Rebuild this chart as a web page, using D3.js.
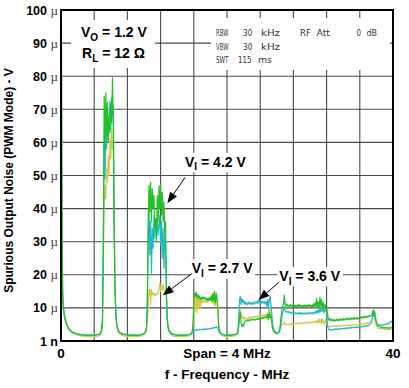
<!DOCTYPE html>
<html><head><meta charset="utf-8">
<script src="https://cdn.jsdelivr.net/npm/d3@7"></script>
<style>body{margin:0;background:#fff}svg{display:block}</style>
</head><body>
<svg id="c" width="409" height="388"></svg>
<script>
// ---------- data ----------
const freqStart = 0, freqStop = 40, sweepPoints = 401; // MHz
const yTickValues = [0,10,20,30,40,50,60,70,80,90,100];
const yTickNums   = ["1","10","20","30","40","50","60","70","80","90","100"];
const yTickUnits  = ["n","µ","µ","µ","µ","µ","µ","µ","µ","µ","µ"];
const xGridValues = [4,8,12,16,20,24,28,32,36];
const yGridValues = [10,20,30,40,50,60,70,80,90];

// V_I = 4.2 V (green), 0.1 MHz per point, one row per MHz
const green = [
150,40,14,10,8,6.8,5.8,5.0,4.4,4.0,
3.6,3.3,3.1,2.9,2.7,2.6,2.5,2.4,2.3,2.2,
2.1,2.1,2.0,2.0,1.9,1.9,1.9,1.8,1.8,1.8,
1.8,1.7,1.8,1.8,1.7,1.8,1.8,1.7,1.8,1.8,
1.8,1.8,1.8,1.9,1.9,1.9,2.0,2.2,2.6,3.5,
7,30,74,58,75,62,72,60,68,63,
72,66,79.5,66,38,18,9.5,5.5,4.0,3.2,
2.8,2.6,2.4,2.3,2.2,2.1,2.0,2.0,1.9,1.9,
1.9,1.8,1.8,1.8,1.7,1.8,1.8,1.7,1.8,1.8,
1.8,1.8,1.7,1.8,1.8,1.8,1.9,1.9,2.0,2.1,
2.3,2.6,3.1,4.2,12,35,47,39,48,36,
46,40,44,34,37,30,44,36,47,40,
47.5,38,45,36,42,33,36,15,7,4.5,
3.4,2.9,2.6,2.4,2.2,2.1,2.0,2.0,1.9,1.9,
1.8,1.8,1.7,1.8,1.8,1.7,1.8,1.8,1.8,1.7,
1.8,1.8,1.8,1.9,1.9,2.0,2.1,2.3,2.8,5,
12,14.5,13.5,14.8,13,14,12.8,13.5,12.5,13.2,
12.6,13.4,12.8,13.2,12.5,13,12.2,12.9,12.3,13.1,
12.4,13.8,12,14.5,12.2,14.9,11.5,14.2,13,9,
4.5,3.0,2.5,2.2,2.0,1.9,1.9,1.8,1.8,1.8,
1.7,1.8,1.8,1.7,1.8,1.8,1.8,1.9,1.9,2.0,
2.0,2.1,2.2,2.4,4,7,8.8,5.5,4.3,5,
4.5,5.8,6,6.2,6,6.3,6.1,6.4,6.2,6.5,
6.3,6.6,6.4,6.5,6.3,6.7,6.5,6.8,6.5,6.9,
6.6,7,6.8,7.1,6.9,7.2,7,7.4,7,8,
6.5,8.8,7,7.5,5.5,3.8,3.0,2.7,2.5,2.3,
2.2,2.3,2.6,3.2,4.5,7,9.5,10.5,11,13.9,
11,10.5,11.2,10.6,10.8,10.4,11,10.5,10.9,10.3,
10.8,10.4,10.9,10.2,10.8,10.5,11.1,10.4,10.9,10.3,
10.7,10.2,10.8,10.4,10.9,10.3,10.8,10.5,11,10.4,
10.9,10.3,10.8,10.5,11.2,10.2,11.5,10.4,12.8,10.2,
11.8,10,13.3,10.5,12.5,9.8,11.5,10.2,11,9.8,
10.2,8.5,6.8,6.3,6.8,6.2,6.6,6.1,6.5,6.0,
6.4,6.1,6.6,6.2,6.5,6.1,6.7,6.3,6.6,6.2,
6.8,6.3,6.6,6.4,6.9,6.5,6.8,6.4,6.9,6.5,
7.0,6.6,6.9,6.5,7.1,6.7,7.0,6.6,7.1,6.8,
7.2,6.9,7.3,6.9,7.4,7.0,7.5,7.1,7.4,7.2,
7.6,7.3,7.7,7.5,7.8,8.2,9.4,8.0,9.0,7.0,
5.8,5.0,4.6,4.4,4.3,4.1,4.2,4.0,4.1,3.9,
4.0,3.9,4.1,3.9,4.0,3.8,4.0,3.9,4.1,3.9,
4.0];

// V_I = 3.6 V (cyan)
const cyan = [
150,38,13,9.5,7.6,6.5,5.6,4.9,4.3,3.9,
3.5,3.2,3.0,2.8,2.7,2.5,2.4,2.3,2.2,2.2,
2.1,2.0,2.0,1.9,1.9,1.9,1.8,1.8,1.8,1.8,
1.7,1.8,1.8,1.7,1.8,1.7,1.8,1.8,1.7,1.8,
1.8,1.8,1.8,1.8,1.9,1.9,2.0,2.2,2.5,3.3,
6,28,60,49,66,58,69,61,67,72.5,
64,73.5,68,71,36,16,8.5,5,3.8,3.1,
2.7,2.5,2.4,2.2,2.1,2.0,2.0,1.9,1.9,1.8,
1.8,1.8,1.7,1.8,1.8,1.7,1.8,1.8,1.7,1.8,
1.8,1.7,1.8,1.8,1.8,1.9,1.9,2.0,2.0,2.1,
2.2,2.5,3.0,4,10,30,42,26,36,20.5,
34,28,38,31,36,33,37,32,35,38,
29,36,25,34,22,33,28,14,6,3.8,
3.0,2.6,2.4,2.2,2.1,2.0,1.9,1.9,1.8,1.8,
1.8,1.7,1.8,1.8,1.7,1.8,1.8,1.7,1.8,1.8,
1.8,1.8,1.8,1.9,1.9,2.0,2.0,2.1,2.3,2.6,
3.2,3.4,3.2,3.5,3.3,3.4,3.3,3.5,3.4,3.5,
3.4,3.6,3.5,3.6,3.5,3.7,3.6,3.7,3.6,3.8,
3.7,3.9,3.8,4.0,3.9,4.1,4.0,4.3,4.1,3.9,
3.2,2.6,2.3,2.1,2.0,1.9,1.9,1.8,1.8,1.8,
1.8,1.7,1.8,1.8,1.8,1.7,1.8,1.8,1.9,1.9,
2.0,2.0,2.2,3,6,12.5,13.4,11,12.8,11.5,
12.3,11.2,11.8,10.9,11.6,11,11.8,11.2,11.6,11,
11.5,11.1,11.8,11.2,11.6,11.9,11.3,12.2,11.5,12.3,
11.6,12,11.4,12.1,11.5,11.9,11.2,12,10.5,12.4,
10,12.8,13.4,11,8,5,3.8,3.2,2.9,2.6,
2.4,2.3,2.4,2.8,3.5,5,7,8.5,9.2,10.4,
9.2,8.8,9,8.6,8.9,8.5,8.8,8.4,8.7,8.3,
8.6,8.2,8.6,8.3,8.5,8.1,8.5,8.2,8.6,8.2,
8.5,8.1,8.4,8.2,8.5,8.1,8.4,8.2,8.6,8.2,
8.5,8.3,8.6,8.2,8.7,8.3,8.8,8.4,9.2,8.5,
9.5,8.6,9.8,8.8,9.6,9,10,8.5,9.5,9.2,
8.8,5,3.8,3.4,3.3,3.5,3.3,3.5,3.4,3.6,
3.4,3.6,3.5,3.7,3.5,3.7,3.6,3.8,3.6,3.8,
3.7,3.9,3.7,3.9,3.8,4.0,3.8,4.0,3.9,4.1,
3.9,4.1,4.0,4.2,4.0,4.2,4.1,4.3,4.1,4.3,
4.2,4.4,4.2,4.4,4.3,4.5,4.4,4.6,4.5,4.7,
4.6,4.8,4.9,5.2,5.8,6.8,8.3,7.5,7.8,6.5,
5.5,5.0,4.8,4.9,4.7,4.8,4.7,4.9,4.8,5.0,
4.9,5.1,5.0,5.3,5.2,5.5,5.4,5.7,6.0,5.6,
5.8];

// V_I = 2.7 V (yellow)
const yellow = [
150,45,15,10,7.8,6.4,5.4,4.6,4.0,3.6,
3.2,2.9,2.7,2.5,2.3,2.2,2.1,2.0,1.9,1.8,
1.8,1.7,1.7,1.6,1.6,1.5,1.5,1.5,1.4,1.4,
1.4,1.3,1.4,1.3,1.3,1.4,1.3,1.3,1.4,1.3,
1.3,1.4,1.3,1.4,1.4,1.5,1.6,1.8,2.2,3.0,
5,22,40,47,43,52,48,56,50,61,
55,64,58,60,32,15,8,5,3.5,2.8,
2.4,2.1,1.9,1.8,1.7,1.6,1.5,1.5,1.4,1.4,
1.4,1.3,1.3,1.4,1.3,1.3,1.4,1.3,1.4,1.3,
1.3,1.4,1.3,1.4,1.4,1.5,1.5,1.6,1.7,1.9,
2.0,2.2,2.6,3.3,6,10,15,16,11,15.5,
14,14.5,13.8,14.2,13.8,14.3,14,14.5,15.5,17.5,
15,16.5,15.4,17,16,15,15.5,12,7,4.5,
3.2,2.5,2.1,1.8,1.6,1.5,1.5,1.4,1.4,1.3,
1.3,1.4,1.3,1.3,1.4,1.3,1.3,1.4,1.3,1.4,
1.4,1.4,1.5,1.5,1.6,1.7,1.9,2.1,2.6,4,
10,14.5,9,13.8,8.5,14,10,13,9.8,12.5,
11.5,12.4,11.8,12.2,11.6,12,11.7,12.3,11.9,12.4,
12,12.8,11.5,13.5,11,14.2,10.5,14.8,12,10,
5.5,3.5,2.5,2.0,1.7,1.5,1.4,1.4,1.3,1.3,
1.4,1.3,1.3,1.4,1.3,1.4,1.4,1.5,1.5,1.6,
1.7,1.8,2.0,2.5,4,8.5,9.4,7.2,8,6.8,
7.2,6.6,7,6.5,6.9,6.6,7.1,6.8,7.2,6.9,
7.3,7,7.4,7.1,7.4,7.2,7.5,7.2,7.6,7.3,
7.6,7.4,7.8,7.5,7.9,7.6,8,7.6,8.4,7.2,
9,10,7.5,8.5,6,4,3.2,2.8,2.5,2.3,
2.2,2.3,2.5,2.9,3.5,4.2,4.8,5,5.2,5.8,
5,5.2,4.9,5.1,4.9,5.2,5,5.2,5,5.3,
5.1,5.3,5.1,5.4,5.2,5.4,5.2,5.4,5.3,5.5,
5.3,5.5,5.3,5.6,5.4,5.6,5.4,5.7,5.5,5.7,
5.5,5.8,5.5,5.8,5.6,5.9,5.6,6,5.5,6.3,
5.4,6.8,5.6,6.5,5.2,6.8,5.5,6,5,6.2,
5.4,4.6,4.3,4.4,4.3,4.5,4.3,4.5,4.4,4.6,
4.4,4.6,4.4,4.6,4.5,4.7,4.5,4.7,4.5,4.7,
4.6,4.8,4.6,4.8,4.6,4.8,4.7,4.9,4.7,4.9,
4.7,4.9,4.8,5.0,4.8,5.0,4.8,5.0,4.9,5.1,
4.9,5.1,5.0,5.2,5.0,5.2,5.1,5.3,5.2,5.4,
5.3,5.5,5.5,5.8,6.3,7.0,7.8,7.2,6.5,5.5,
4.6,4.1,3.9,3.8,3.7,3.8,3.6,3.7,3.6,3.7,
3.5,3.6,3.5,3.6,3.5,3.6,3.4,3.5,3.4,3.5,
3.4];

const seriesNames  = ["2.7 V","3.6 V","4.2 V"];
const seriesValues = [yellow, cyan, green];
const seriesColors = ["#d6c84a","#1fb9c9","#24c028"];

// analyzer settings: [token, left x, width, row]
const infoTokens = [["RBW",216,12.5,0],["30",243,9.5,0],["kHz",261,19,0],["RF",300,11,0],["Att",316.5,13.5,0],["0",356.5,4.5,0],["dB",366.5,10.5,0],
                    ["VBW",216,12.5,1],["30",243,9.5,1],["kHz",261,19,1],
                    ["SWT",216,12.5,2],["115",238,13.5,2],["ms",258,14,2]];
const infoRowsY = [36,50,63];

// annotations in data units (MHz, µV)
const annoLabels = ["4.2 V","2.7 V","3.6 V"];
const annoText   = [[14.94,52.6],[15.75,20.5],[26.3,18.1]];
const annoFrom   = [[14.94,49.4],[15.75,20.3],[26.3,17.8]];
const annoTip    = [[12.81,41.6],[12.25,13.8],[23.77,12.4]];

// ---------- drawing ----------
const svg = d3.select("#c");
const x = d3.scaleLinear().domain([freqStart, freqStop]).range([61, 393]);
const y = d3.scaleLinear().domain([0, 100]).range([341, 10]);
const freq = d3.range(sweepPoints).map(i => freqStart + i*(freqStop-freqStart)/(sweepPoints-1));

svg.append("rect").attr("width",409).attr("height",388).attr("fill","#fff");

// grid
const grid = svg.append("g").attr("stroke","#4a4a4a").attr("stroke-width",1.1);
grid.selectAll(".vx").data(xGridValues).join("line")
  .attr("x1",d=>x(d)).attr("x2",d=>x(d)).attr("y1",y(100)).attr("y2",y(0));
grid.selectAll(".hy").data(yGridValues).join("line")
  .attr("x1",x(0)).attr("x2",x(40)).attr("y1",d=>y(d)).attr("y2",d=>y(d));

// white panels covering grid
svg.append("rect").attr("x",71).attr("y",20).attr("width",84).attr("height",48).attr("fill","#fff");
svg.append("rect").attr("x",211).attr("y",18).attr("width",179).attr("height",52).attr("fill","#fff");

// traces
svg.append("clipPath").attr("id","pc").append("rect")
  .attr("x",x(0)).attr("y",y(100)).attr("width",x(40)-x(0)).attr("height",y(0)-y(100));
const line = d3.line().x((d,i)=>x(freq[i])).y(d=>y(d));
svg.append("g").attr("clip-path","url(#pc)").selectAll("path").data(seriesValues).join("path")
  .attr("d",line).attr("fill","none").attr("stroke",(d,i)=>seriesColors[i])
  .attr("stroke-width",1.2).attr("stroke-linejoin","round");

// frame
svg.append("rect").attr("x",x(0)).attr("y",y(100)).attr("width",x(40)-x(0)).attr("height",y(0)-y(100))
  .attr("fill","none").attr("stroke","#000").attr("stroke-width",2);

const sans = "'Liberation Sans', Arial, Helvetica, sans-serif";

// y tick labels
const yl = svg.append("g").attr("font-family",sans).attr("font-size",12.5).attr("font-weight","bold").attr("text-anchor","end");
yTickValues.forEach((v,i)=>{
  const t = yl.append("text").attr("x",58).attr("y",y(v)+4.5);
  t.append("tspan").text(yTickNums[i]+" ");
  if (yTickUnits[i]==="µ") t.append("tspan").attr("font-family","'Liberation Serif','DejaVu Serif',serif")
      .attr("font-weight","normal").attr("fill","#444").attr("font-size",13).text("µ");
  else t.append("tspan").text(yTickUnits[i]);
});

// x labels
const xl = svg.append("g").attr("font-family",sans).attr("font-size",13.5).attr("font-weight","bold").attr("text-anchor","middle");
xl.append("text").attr("x",x(0)).attr("y",358).text("0");
xl.append("text").attr("x",x(40)).attr("y",358).text("40");
xl.append("text").attr("x",x(20)).attr("y",358).text("Span = 4 MHz");
xl.append("text").attr("x",x(20)).attr("y",379).text("f - Frequency - MHz");

// y title
svg.append("text").attr("transform",`translate(13,${(y(0)+y(100))/2+5}) rotate(-90)`)
  .attr("font-family",sans).attr("font-size",12).attr("font-weight","bold").attr("text-anchor","middle")
  .text("Spurious Output Noise (PWM Mode) - V");

// conditions box
function subText(g, px, py, main, sub, rest, size){
  const t = g.append("text").attr("x",px).attr("y",py).attr("font-family",sans).attr("font-weight","bold").attr("font-size",size);
  t.append("tspan").text(main);
  t.append("tspan").attr("font-size",size*0.72).attr("dy",size*0.25).text(sub);
  t.append("tspan").attr("dy",-size*0.25).text(rest);
  return t;
}
subText(svg, 81, 37, "V", "O", " = 1.2 V", 14);
subText(svg, 82, 58, "R", "L", " = 12 Ω", 14);

// analyzer settings
const info = svg.append("g").attr("font-family","'DejaVu Sans', sans-serif").attr("font-size",9).attr("fill","#333");
infoTokens.forEach(d=>{
  info.append("text").attr("x",d[1]).attr("y",infoRowsY[d[3]])
    .attr("textLength",d[2]).attr("lengthAdjust","spacingAndGlyphs").text(d[0]);
});

// annotations
annoLabels.forEach((lab,i)=>{
  const tx = x(annoText[i][0]), ty = y(annoText[i][1]);
  const t = subText(svg, tx, ty, "V", "I", " = "+lab, 14);
  const bb = t.node().getBBox();
  svg.insert("rect", () => t.node()).attr("x",bb.x-2).attr("y",bb.y-1).attr("width",bb.width+4).attr("height",bb.height+1).attr("fill","#fff");
  const x1 = x(annoFrom[i][0]), y1 = y(annoFrom[i][1]), x2 = x(annoTip[i][0]), y2 = y(annoTip[i][1]);
  const dx = x2-x1, dy = y2-y1, L = Math.hypot(dx,dy), ux = dx/L, uy = dy/L;
  const hl = 11, hw = 4.2;
  const bx = x2-ux*hl, by = y2-uy*hl;
  svg.append("line").attr("x1",x1).attr("y1",y1).attr("x2",bx).attr("y2",by).attr("stroke","#000").attr("stroke-width",1);
  svg.append("path").attr("d",`M${x2},${y2}L${bx-uy*hw},${by+ux*hw}L${bx+uy*hw},${by-ux*hw}Z`).attr("fill","#000");
});
</script>
</body></html>
